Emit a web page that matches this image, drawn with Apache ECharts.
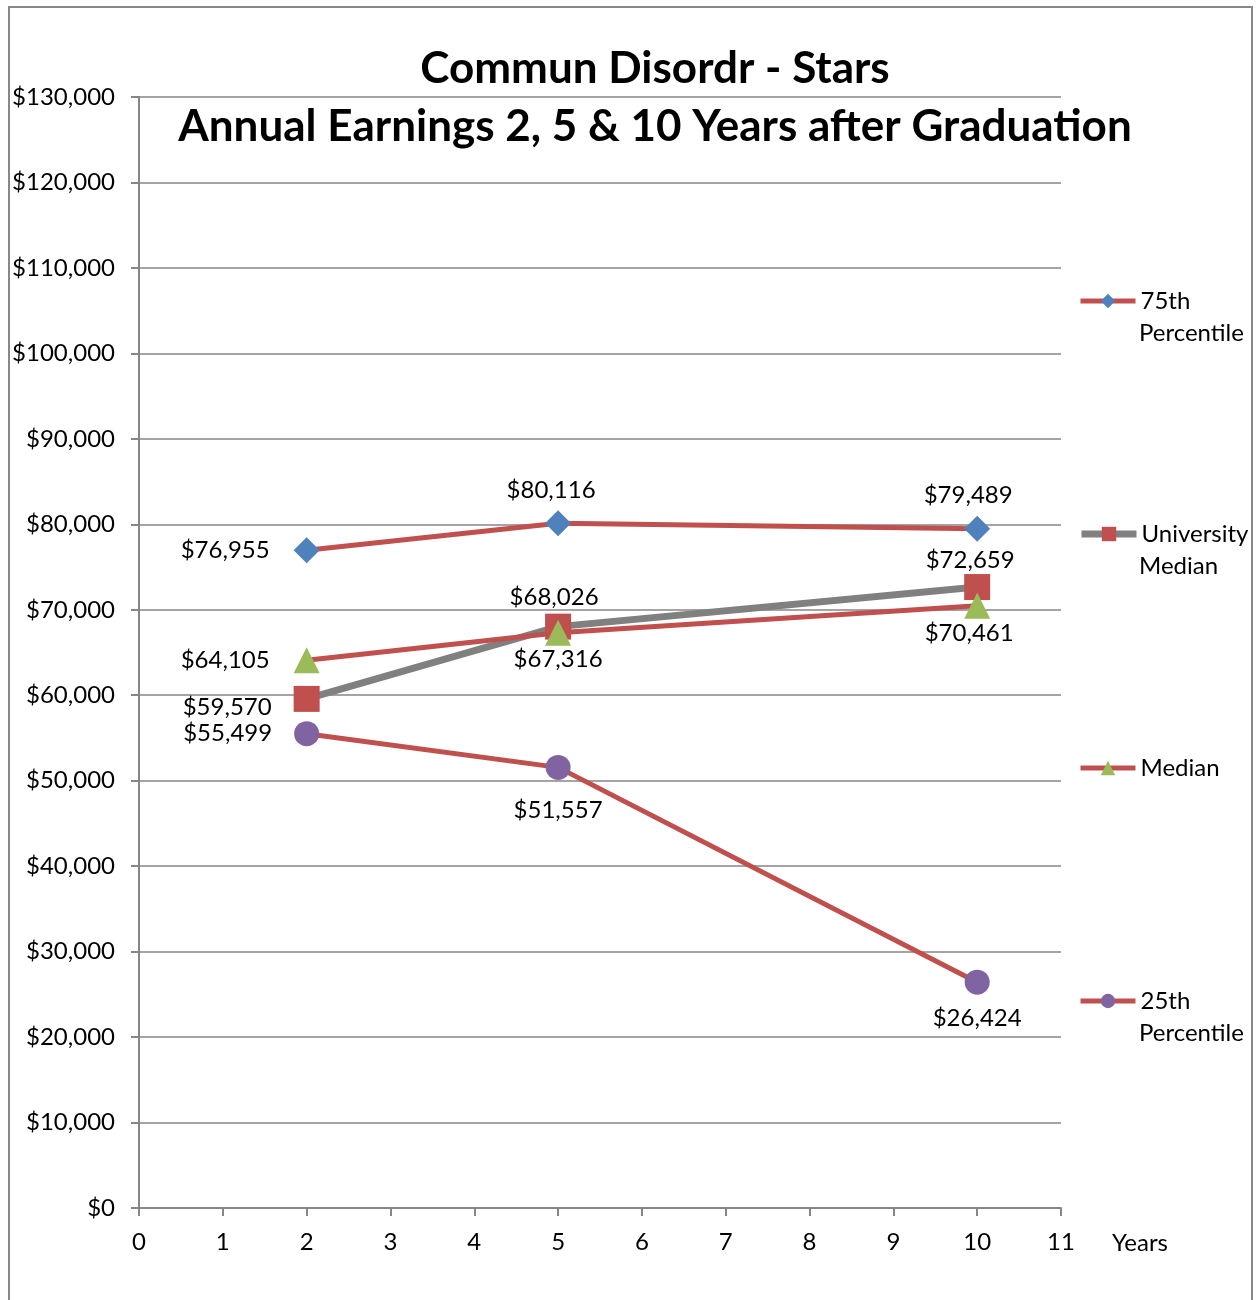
<!DOCTYPE html>
<html><head><meta charset="utf-8">
<script src="https://cdn.jsdelivr.net/npm/echarts@6/dist/echarts.min.js"></script>
<style>html,body{margin:0;padding:0;background:#fff}#c{width:1257px;height:1300px}</style>
</head><body><div id="c"></div>
<script>
var years = [2, 5, 10];
var seriesNames = ['75th Percentile', 'University Median', 'Median', '25th Percentile'];
var p75 = [76955, 80116, 79489];
var uniMedian = [59570, 68026, 72659];
var median = [64105, 67316, 70461];
var p25 = [55499, 51557, 26424];
var yTicks = [0,10000,20000,30000,40000,50000,60000,70000,80000,90000,100000,110000,120000,130000];

var F = 'Lato, "Open Sans", sans-serif';
var FS = 24;
function money(v){ return '$' + v.toLocaleString('en-US'); }

var labelCfg = {
  p75: [{position:'left', distance:24}, {position:'top', distance:8, offset:[-7,0]}, {position:'top', distance:8, offset:[-9,0]}],
  uni: [{position:'left', distance:22, offset:[0,8]}, {position:'top', distance:4, offset:[-4,0]}, {position:'top', distance:2, offset:[-7,0]}],
  med: [{position:'left', distance:24}, {position:'bottom', distance:2}, {position:'bottom', distance:2, offset:[-8,0]}],
  p25: [{position:'left', distance:22}, {position:'bottom', distance:18}, {position:'bottom', distance:12}]
};

function build(vals, cfg){
  return vals.map(function(v,i){
    var c = cfg[i];
    return {value:[years[i], v], label:{show:true, position:c.position, distance:c.distance, offset:c.offset||[0,0]}};
  });
}

var labelStyle = {fontFamily:F, fontSize:FS, color:'#000', formatter:function(p){return money(p.value[1]);}};

function mkSeries(name, vals, cfg, lineColor, lineWidth, sym, symSize, symColor){
  return {
    name:name, type:'line', data:build(vals,cfg),
    symbol:sym, symbolSize:symSize, showAllSymbol:true,
    lineStyle:{color:lineColor, width:lineWidth},
    itemStyle:{color:symColor, borderWidth:0},
    label:labelStyle,
    emphasis:{disabled:true}, animation:false
  };
}

var legendTops = [289, 522, 756, 989];
var legendFirst = ['75th', 'University', 'Median', '25th'];
var legendSecond = ['Percentile', 'Median', '', 'Percentile'];
var legends = seriesNames.map(function(n,i){
  return {
    left:1078, top:legendTops[i], orient:'vertical', data:[n], padding:0,
    itemWidth:55, itemHeight:18, itemGap:5, selectedMode:false,
    lineStyle:{width:i===1?7:5},
    formatter:function(){return legendFirst[i];},
    textStyle:{fontFamily:F, fontSize:FS, color:'#000'}
  };
});

var graphics = [{type:'rect', shape:{x:9, y:7, width:1243, height:1310}, style:{fill:'none', stroke:'#888', lineWidth:2}, silent:true}];
legendSecond.forEach(function(t,i){
  if(t) graphics.push({type:'text', left:1139, top:legendTops[i]+32, style:{text:t, fontFamily:F, fontSize:FS, fill:'#000'}, silent:true});
});

var chart = echarts.init(document.getElementById('c'));
chart.setOption({
  animation:false,
  backgroundColor:'#fff',
  title:{text:'Commun Disordr - Stars\nAnnual Earnings 2, 5 & 10 Years after Graduation', left:650, textAlign:'center', top:35,
    textStyle:{fontFamily:F, fontSize:44, fontWeight:'bold', color:'#000', lineHeight:58}},
  legend:legends,
  graphic:graphics,
  grid:{left:139, right:196, top:97, bottom:92, containLabel:false},
  xAxis:{type:'value', min:0, max:11, interval:1,
    name:'Years', nameLocation:'end', nameGap:51,
    nameTextStyle:{fontFamily:F, fontSize:FS, color:'#000', verticalAlign:'top', padding:[23,0,0,0], align:'left'},
    axisLine:{show:true, lineStyle:{color:'#868686', width:2}},
    axisTick:{show:true, length:8, lineStyle:{color:'#868686', width:2}},
    axisLabel:{fontFamily:F, fontSize:FS, color:'#000', margin:22},
    splitLine:{show:false}},
  yAxis:{type:'value', min:yTicks[0], max:yTicks[yTicks.length-1], interval:10000,
    axisLine:{show:true, lineStyle:{color:'#868686', width:2}},
    axisTick:{show:true, length:8, lineStyle:{color:'#868686', width:2}},
    axisLabel:{fontFamily:F, fontSize:FS, color:'#000', margin:24, formatter:function(v){return money(v);}},
    splitLine:{show:true, lineStyle:{color:'#868686', width:1.5}}},
  series:[
    mkSeries(seriesNames[0], p75, labelCfg.p75, '#C0504D', 5, 'diamond', 26, '#4F81BD'),
    mkSeries(seriesNames[1], uniMedian, labelCfg.uni, '#808080', 7, 'rect', 26, '#C0504D'),
    mkSeries(seriesNames[2], median, labelCfg.med, '#C0504D', 5, 'triangle', 26, '#9BBB59'),
    mkSeries(seriesNames[3], p25, labelCfg.p25, '#C0504D', 5, 'circle', 25, '#8064A2')
  ]
});
</script></body></html>
